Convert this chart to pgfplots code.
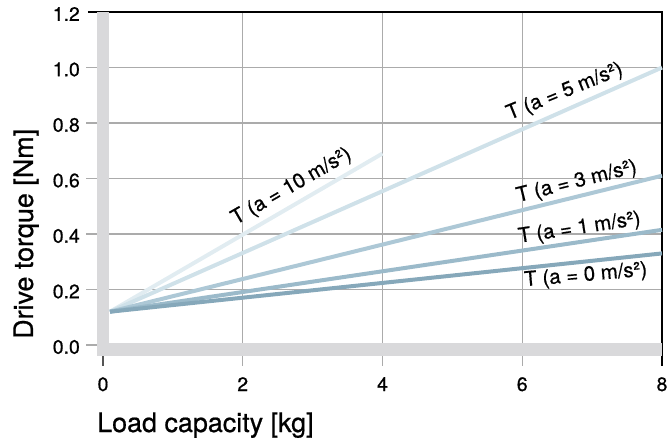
\documentclass[border=0pt]{standalone}
\usepackage{pgfplots}
\pgfplotsset{compat=1.18}
\usepackage{fontspec}
\setmainfont{TeX Gyre Heros}[FakeBold=0.7, AutoFakeBold=0.7]
\newfontfamily\med{TeX Gyre Heros}[FakeBold=0.7]
\definecolor{barg}{HTML}{D9D9DB}
\definecolor{gridc}{HTML}{ABABAB}
\definecolor{tickd}{HTML}{555555}
\definecolor{c0}{HTML}{86A8BA}
\definecolor{c1}{HTML}{9BBACA}
\definecolor{c3}{HTML}{ADC8D6}
\definecolor{c5}{HTML}{CFE1E9}
\definecolor{c10}{HTML}{E1ECF1}
\begin{document}
\begin{tikzpicture}
\begin{axis}[
  width=559bp, height=333bp, scale only axis,
  xmin=0, xmax=8, ymin=0, ymax=1.2,
  xtick={0,2,4,6,8}, xticklabels={0,2,4,6,8},
  ytick={0,0.2,0.4,0.6,0.8,1.0,1.2},
  yticklabels={0.0,0.2,0.4,0.6,0.8,1.0,1.2},
  axis line style={draw=none},
  major tick style={draw=none},
  xticklabel style={font=\med\fontsize{19.5}{19.5}\selectfont, anchor=base, yshift=-46bp},
  yticklabel style={font=\med\fontsize{19.5}{19.5}\selectfont, anchor=east, inner sep=0pt, xshift=-23bp, yshift=-2bp},
  clip=false,
  line cap=butt,
]
% grid lines with their outside ticks
\draw[gridc, line width=1.5bp] (axis cs:2,1.2) -- (axis cs:2,0) -- ++(0,-21bp);
\draw[gridc, line width=1.5bp] (axis cs:4,1.2) -- (axis cs:4,0) -- ++(0,-21bp);
\draw[gridc, line width=1.5bp] (axis cs:6,1.2) -- (axis cs:6,0) -- ++(0,-21bp);
\draw[gridc, line width=1.5bp] (axis cs:8,0.2) -- (axis cs:0,0.2) -- ++(-17bp,0);
\draw[gridc, line width=1.5bp] (axis cs:8,0.4) -- (axis cs:0,0.4) -- ++(-17bp,0);
\draw[gridc, line width=1.5bp] (axis cs:8,0.6) -- (axis cs:0,0.6) -- ++(-17bp,0);
\draw[gridc, line width=1.5bp] (axis cs:8,0.8) -- (axis cs:0,0.8) -- ++(-17bp,0);
\draw[gridc, line width=1.5bp] (axis cs:8,1.0) -- (axis cs:0,1.0) -- ++(-17bp,0);
\draw[gridc, line width=1.5bp] (axis cs:0,0) -- ++(-17bp,0);
\draw[tickd, line width=1.5bp] (axis cs:0,0) -- ++(0,-21bp);
% frame top and right
\draw[black, line width=2bp] (axis cs:0,1.2) ++(-15bp,0) -- (axis cs:8,1.2) -- (axis cs:8,0) -- ++(0,-21bp);
% grey bars
\fill[barg] ([xshift=-6bp]axis cs:0,1.2) rectangle ([xshift=6bp,yshift=-11bp]axis cs:0,0);
\fill[barg] ([xshift=-6bp,yshift=2bp]axis cs:0,0) rectangle ([yshift=-11bp]axis cs:8,0);
% data
\addplot[c10, line width=4bp] coordinates {(0.1,0.12) (4,0.69)};
\addplot[c5, line width=4bp] coordinates {(0.1,0.12) (8,1.0)};
\addplot[c3, line width=4bp] coordinates {(0.1,0.12) (8,0.61)};
\addplot[c1, line width=4bp] coordinates {(0.1,0.12) (8,0.415)};
\addplot[c0, line width=4bp] coordinates {(0.1,0.12) (8,0.33)};
% annotations
\node[rotate=30, font=\med\fontsize{20.5}{20.5}\selectfont] at (axis cs:2.70,0.57) {T (a = 10 m/s²)};
\node[rotate=22, font=\med\fontsize{20.5}{20.5}\selectfont] at (axis cs:6.61,0.912) {T (a = 5 m/s²)};
\node[rotate=14, font=\med\fontsize{20.5}{20.5}\selectfont] at (axis cs:6.78,0.587) {T (a = 3 m/s²)};
\node[rotate=8.5, font=\med\fontsize{20.5}{20.5}\selectfont] at (axis cs:6.82,0.42) {T (a = 1 m/s²)};
\node[rotate=5, font=\med\fontsize{20.5}{20.5}\selectfont] at (axis cs:6.91,0.25) {T (a = 0 m/s²)};
% axis titles
\node[rotate=90, anchor=base west, inner sep=0pt, font=\med\fontsize{27}{27}\selectfont] at ([xshift=-70bp,yshift=6bp]axis cs:0,0) {Drive torque [Nm]};
\node[anchor=base west, inner sep=0pt, font=\med\fontsize{27}{27}\selectfont] at ([xshift=-6bp,yshift=-87bp]axis cs:0,0) {Load capacity [kg]};
\coordinate (TL) at ([xshift=-103bp,yshift=12bp]axis cs:0,1.2);
\coordinate (BR) at ([xshift=6bp,yshift=-96bp]axis cs:8,0);
\end{axis}
\pgfresetboundingbox
\path[use as bounding box] (TL) rectangle (BR);
\end{tikzpicture}
\end{document}
